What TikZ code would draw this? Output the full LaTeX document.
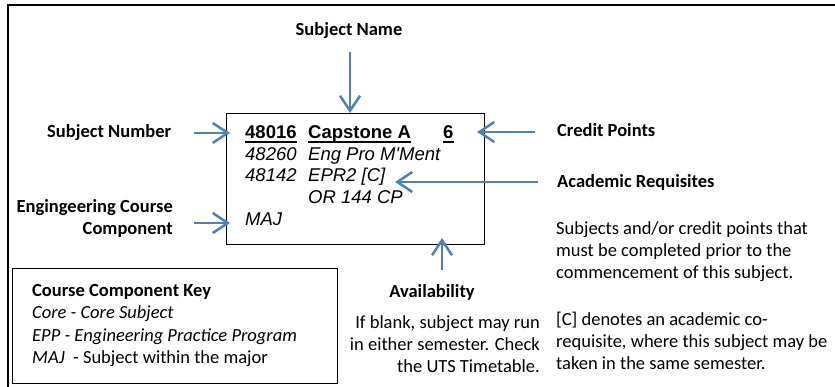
\documentclass[tikz,border=0pt]{standalone}
\usepackage{fontspec}
\setmainfont{Carlito}
\newfontfamily\arialf{Liberation Sans}
\usetikzlibrary{arrows.meta}
\definecolor{arrblue}{HTML}{4F81BD}
\begin{document}
\begin{tikzpicture}[x=1pt,y=-1pt,
  lbl/.style={inner sep=0pt, font=\fontsize{18.5}{22}\selectfont\bfseries},
  txt/.style={inner sep=0pt, font=\fontsize{18.5}{22}\selectfont},
  itx/.style={inner sep=0pt, font=\fontsize{18.5}{22}\selectfont\itshape},
  cell/.style={inner sep=0pt, font=\arialf\fontsize{18.5}{22}\selectfont\itshape},
  cellb/.style={inner sep=0pt, font=\arialf\fontsize{18.5}{22}\selectfont\bfseries},
  arr/.style={draw=arrblue, line width=2.5pt, -{Straight Barb[length=15pt,width=20pt]}},
  frame/.style={draw=black, line width=1.2pt},
  uline/.style={draw=black, line width=1.4pt}]
\useasboundingbox (0,0) rectangle (835,387);
% outer frame (top and left)
\draw[line width=1.6pt] (8,387) -- (8,5) -- (835,5);
% main subject box
\node[frame, minimum width=258pt, minimum height=131pt, anchor=north west, inner sep=0pt] (box) at (226,113) {};
% key box
\node[frame, minimum width=325pt, minimum height=115pt, anchor=north west, inner sep=0pt] (key) at (12,268) {};

% box contents
\node[cellb, anchor=base west] (num) at (245,139) {48016};
\node[cellb, anchor=base west] (name) at (308,139) {Capstone A};
\node[cellb, anchor=base west] (cp) at (443,139) {6};
\draw[uline] ([yshift=-3pt]num.base west) -- ([yshift=-3pt]num.base east);
\draw[uline] ([yshift=-3pt]name.base west) -- ([yshift=-3pt]name.base east);
\draw[uline] ([yshift=-3pt]cp.base west) -- ([yshift=-3pt]cp.base east);
\node[cell, anchor=base west] (r2a) at (245,161) {48260};
\node[cell, anchor=base west] (r2b) at (308,161) {Eng Pro M'Ment};
\node[cell, anchor=base west] (r3a) at (245,182) {48142};
\node[cell, anchor=base west] (r3b) at (308,182) {EPR2 [C]};
\node[cell, anchor=base west] (r4b) at (308,204) {OR 144 CP};
\node[cell, anchor=base west] (maj) at (245,226) {MAJ};

% labels
\node[lbl, anchor=base] (lsn) at (349,36) {Subject Name};
\node[lbl, anchor=base west] (lnum) at (47,138) {Subject Number};
\node[lbl, anchor=base west] (lcp) at (557,137) {Credit Points};
\node[lbl, anchor=base west] (lar) at (557,188) {Academic Requisites};
\node[lbl, anchor=base east] (lec1) at (173,213) {Engingeering Course};
\node[lbl, anchor=base east] (lec2) at (173,235) {Component};
\node[lbl, anchor=base] (lav) at (432,298) {Availability};

% explanatory text
\node[txt, anchor=base west] (ar1) at (556,235) {Subjects and/or credit points that};
\node[txt, anchor=base west] (ar2) at (556,257) {must be completed prior to the};
\node[txt, anchor=base west] (ar3) at (556,279) {commencement of this subject.};
\node[txt, anchor=base west] (ar4) at (556,325) {[C] denotes an academic co-};
\node[txt, anchor=base west] (ar5) at (556,347) {requisite, where this subject may be};
\node[txt, anchor=base west] (ar6) at (556,369) {taken in the same semester.};
\node[txt, anchor=base east] (av1) at (540,328) {If blank, subject may run};
\node[txt, anchor=base east] (av2) at (540,350) {in either semester. Check};
\node[txt, anchor=base east] (av3) at (540,372) {the UTS Timetable.};

% key text
\node[lbl, anchor=base west] (k0) at (32,296) {Course Component Key};
\node[itx, anchor=base west] (k1) at (32,318) {Core - Core Subject};
\node[itx, anchor=base west] (k2) at (32,341) {EPP - Engineering Practice Program};
\node[txt, anchor=base west] (k3) at (32,363) {\textit{MAJ}\ \ - Subject within the major};

% arrows
\coordinate (a1s) at (350,52);
\coordinate (a1e) at (350,113);
\draw[arr] (a1s) -- (a1e);
\coordinate (a2s) at (194,133);
\coordinate (a2e) at (230,133);
\draw[arr] (a2s) -- (a2e);
\coordinate (a3s) at (535,132);
\coordinate (a3e) at (477,132);
\draw[arr] (a3s) -- (a3e);
\coordinate (a4s) at (538,182);
\coordinate (a4e) at (395,182);
\draw[arr] (a4s) -- (a4e);
\coordinate (a5s) at (194,223);
\coordinate (a5e) at (230,223);
\draw[arr] (a5s) -- (a5e);
\coordinate (a6s) at (442,270);
\coordinate (a6e) at (442,238);
\draw[arr] (a6s) -- (a6e);
\end{tikzpicture}
\end{document}
